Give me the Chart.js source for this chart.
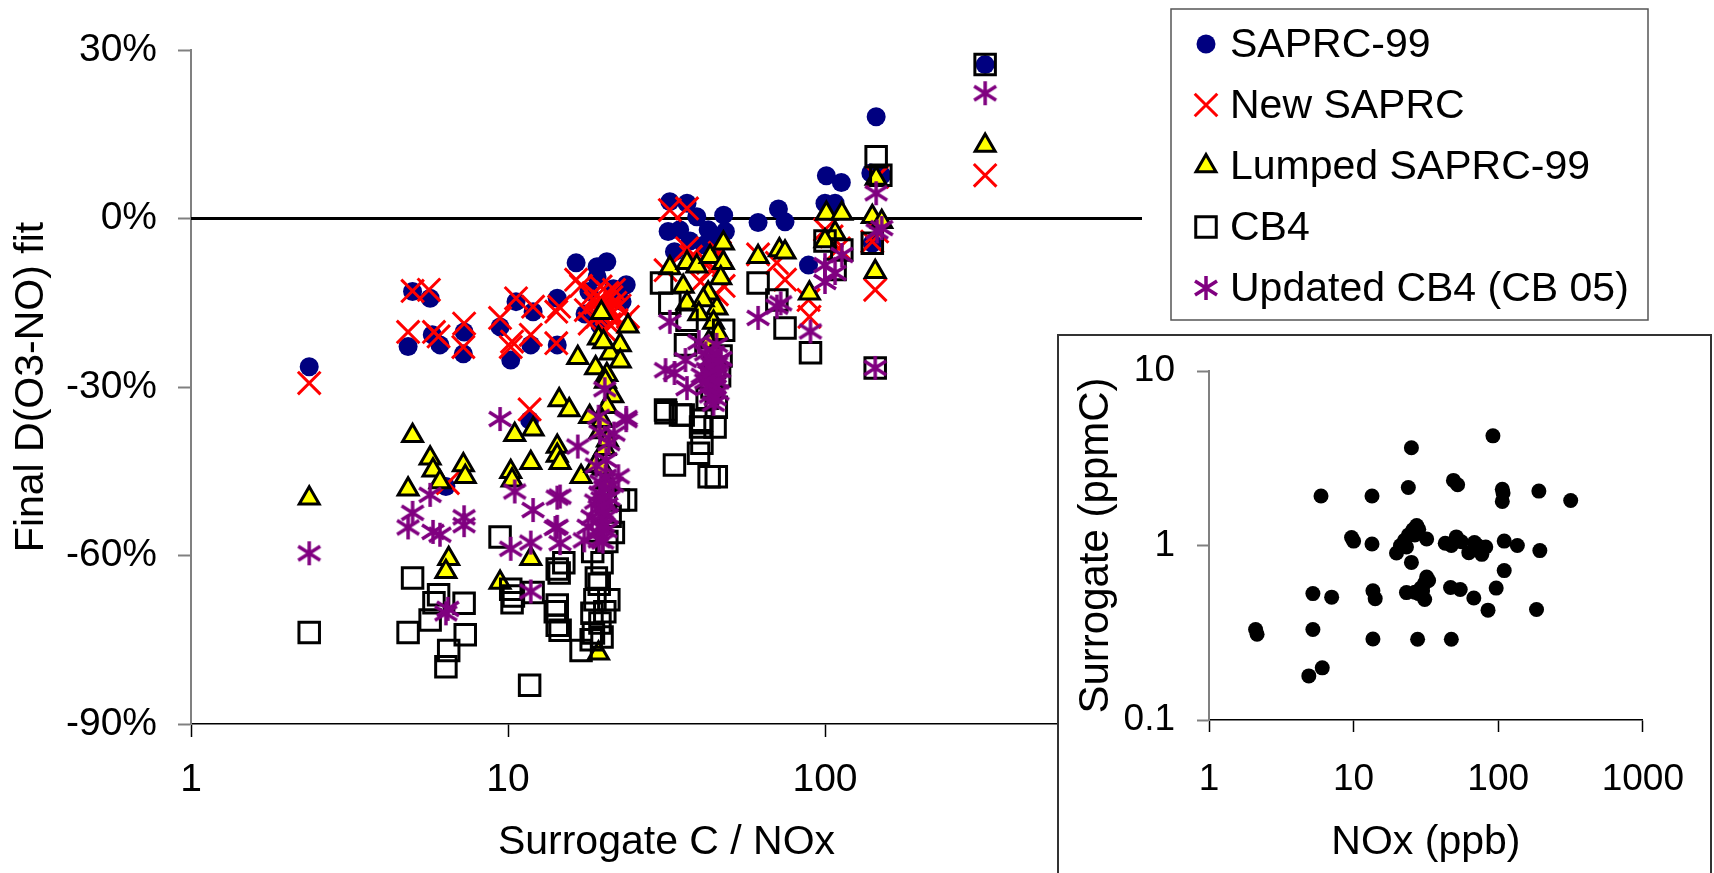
<!DOCTYPE html>
<html>
<head>
<meta charset="utf-8">
<title>Final D(O3-NO) fit vs Surrogate C / NOx</title>
<script src="https://cdn.jsdelivr.net/npm/chart.js@4.4.1/dist/chart.umd.min.js"></script>
<style>
    html, body { margin: 0; padding: 0; background: #fff; overflow: hidden; }
    canvas { display: block; }
    #mainWrap { position: absolute; left: 0; top: 0; width: 1714px; height: 873px; }
    #insetWrap { position: absolute; left: 1057px; top: 334px; width: 651px; height: 545px;
                 border: 2px solid #333; background: #fff; }
</style>
</head>
<body>
<div id="mainWrap"><canvas id="mainChart" width="1714" height="873"></canvas></div>
<div id="insetWrap"><canvas id="insetChart" width="651" height="537"></canvas></div>
<script>
// Data: [Surrogate C / NOx, Final D(O3-NO) fit in %]
const saprc99 = [
    [2.36, -26.4],
    [5.0, -13.0], [5.68, -14.2], [4.84, -22.8], [5.77, -20.7], [6.1, -22.5], [7.27, -20.2], [7.23, -24.1], [6.37, -47.7],
    [9.44, -19.3], [10.6, -14.8], [12.0, -16.6], [10.2, -25.2], [11.8, -22.5], [14.3, -14.2], [14.3, -22.5], [11.7, -35.9],
    [16.4, -7.9], [19.1, -8.6], [20.5, -7.7], [23.6, -11.8], [19.1, -10.4], [22.9, -14.8], [18.0, -13.0], [20.0, -15.5],
    [21.5, -12.5], [17.5, -17.0], [19.5, -19.0],
    [32.4, 3.0], [36.7, 2.7], [39.4, 0.3], [47.9, 0.6], [32, -2.3], [34.8, -2.0], [42.8, -2.0], [48.5, -2.3],
    [33.5, -5.9], [41.6, -4.7], [44.6, -3.5], [37.5, -4.0], [45.5, -6.5],
    [61.5, -0.7], [71.3, 1.7], [74.8, -0.6], [88.7, -8.3], [101, 7.6], [112.6, 6.4], [100, 2.7], [107.6, 2.7],
    [145, 18.1], [139.5, 8.1], [151, 7.7], [141, -4.4], [320, 27.4]
];
const newSaprc = [
    [2.36, -29.3],
    [5.0, -12.9], [5.63, -12.7], [4.84, -20.2], [5.84, -20.2], [6.04, -21.0], [7.27, -18.7], [7.23, -22.9], [6.46, -47.1],
    [9.44, -17.7], [10.6, -14.2], [12.0, -15.7], [10.2, -22.9], [10.3, -21.9], [11.8, -20.7], [14.2, -16.6], [14.2, -22.2], [11.7, -34.0],
    [16.4, -10.9], [18.6, -13.3], [19.6, -14.5], [20.8, -15.7], [19.1, -17.5], [18.1, -18.7], [22.0, -18.1], [20.2, -19.9],
    [23.9, -17.5], [14.5, -15.7], [21.6, -12.7], [17.6, -16.3], [19.6, -12.1], [20.5, -17.0], [21.2, -14.0], [19.9, -16.2],
    [20.9, -18.8], [18.9, -15.0], [22.5, -15.5], [17.0, -12.0], [19.0, -13.8], [20.0, -14.8], [21.0, -16.5], [19.5, -16.8],
    [20.6, -13.2], [21.8, -15.0],
    [32.4, 1.5], [36.7, 1.8], [31.4, -9.2], [36.7, -5.3], [37.8, -6.8], [42.8, -7.9], [46.6, -6.1], [47.9, -12.0],
    [40.5, -11.3], [45.6, -13.5], [43.6, -9.1],
    [61.5, -6.4], [70.5, -7.9], [74.8, -10.9], [88.7, -14.5], [89.3, -17.5], [100, -2.0], [104.9, -3.2], [110.6, -5.3],
    [146, 7.4], [141, -4.1], [146, -2.3], [144, -12.7], [320, 7.7]
];
const lumpedSaprc = [
    [2.36, -49.8],
    [5.0, -38.7], [5.68, -42.7], [5.8, -44.8], [6.1, -46.9], [4.84, -48.2], [7.23, -43.9], [7.33, -46.0], [6.5, -60.6], [6.37, -62.9],
    [9.44, -64.8], [10.2, -45.1], [10.3, -46.6], [10.5, -38.5], [12.0, -37.5], [11.8, -43.5], [11.8, -60.6], [14.3, -40.6],
    [14.3, -42.2], [14.6, -43.5],
    [19.7, -16.8], [19.3, -21.3], [22.6, -22.5], [23.9, -19.2], [16.6, -24.8], [18.9, -26.6], [21.0, -24.0], [22.6, -25.4],
    [20.5, -27.8], [21.4, -31.6], [14.5, -32.3], [15.6, -34.1], [18.1, -35.3], [17.0, -46.0], [19.3, -77.4], [19.5, -38.0],
    [20.2, -41.0], [18.8, -44.0], [20.5, -33.5], [20.0, -22.0], [20.3, -29.0], [19.8, -36.0], [20.6, -39.5], [19.9, -44.5], [20.4, -47.0],
    [32.4, -8.8], [36.7, -7.9], [39.4, -8.5], [43.4, -6.8], [47.8, -4.4], [47.8, -7.9], [46.9, -10.6], [35.7, -12.1],
    [36.7, -15.1], [45.6, -16.0], [42.8, -13.3], [41.3, -14.5], [44.5, -18.5], [40.0, -17.0], [46.0, -20.5], [43.0, -22.0],
    [61.5, -6.8], [71.8, -5.6], [74.8, -6.0], [89.3, -13.3], [101, 0.9], [113, 0.9], [107.6, -2.6], [100, -4.0],
    [141, 0.3], [151, -0.6], [145, 7.1], [144, -9.5], [320, 13.0]
];
const cb4 = [
    [2.36, -73.7],
    [5.0, -64.0], [4.84, -73.7], [6.04, -67.0], [5.84, -68.4], [5.68, -71.5], [7.27, -68.5], [7.33, -74.1], [6.5, -76.9], [6.37, -79.8],
    [9.44, -56.7], [10.2, -66.0], [10.3, -68.4], [10.4, -67.2], [12.0, -66.6], [11.7, -83.1], [14.3, -62.4], [14.3, -68.8], [14.3, -72.4],
    [14.5, -63.1], [14.1, -70.0], [14.6, -73.3], [17.0, -76.9], [18.8, -67.9], [18.4, -70.3], [18.6, -73.8], [18.3, -75.0],
    [19.4, -65.1], [19.8, -61.3], [20.8, -67.9], [22.3, -50.1], [23.5, -50.1], [21.5, -55.9], [18.5, -59.3], [15.0, -61.3],
    [19.5, -72.0], [20.2, -70.0], [19.0, -64.0], [20.5, -57.5], [21.0, -53.0], [19.8, -74.5],
    [30.5, -11.5], [32.4, -15.1], [36.7, -18.1], [47.9, -19.9], [36.3, -22.5], [31.4, -34.1], [35.7, -35.0], [40.5, -37.1],
    [31.5, -34.6], [35, -35.0], [33.5, -43.9], [40.9, -35.9], [39.9, -41.8], [43.1, -46.0], [45.4, -46.0], [40.9, -40.0],
    [45, -37.1], [45.4, -33.6], [44.0, -30.0], [46.5, -28.0], [42.5, -32.0], [47.0, -24.5], [44.8, -26.5],
    [61.5, -11.5], [74.8, -19.5], [70.5, -14.5], [90, -23.9], [100, -4.0], [113, -5.6], [107.6, -9.1],
    [145, 11.0], [150, 7.7], [141, -4.4], [144, -26.6], [320, 27.4]
];
const cb05 = [
    [2.36, -59.6],
    [5.0, -52.4], [4.84, -55.0], [5.68, -49.2], [5.8, -55.8], [6.1, -56.3], [7.27, -54.6], [7.27, -53.2], [6.37, -70.3], [6.46, -69.5],
    [9.44, -35.7], [10.5, -48.6], [12.0, -51.9], [10.2, -58.8], [11.8, -57.7], [11.8, -66.4], [14.3, -49.7], [14.3, -54.9],
    [14.6, -49.5], [14.1, -55.1], [14.6, -57.8], [16.6, -40.6], [19.5, -38.1], [20.8, -40.0], [22.3, -45.9], [20.4, -43.0],
    [18.4, -53.2], [17.9, -54.9], [17.4, -57.3], [19.4, -57.3], [18.9, -50.4], [20.8, -49.8], [21.4, -47.4], [20.2, -30.4],
    [23.6, -35.5], [19.3, -35.3], [21.6, -38.3], [23.6, -35.9], [19.8, -52.0], [20.0, -54.5], [19.2, -56.0], [20.5, -51.0],
    [19.6, -47.0], [19.0, -44.0], [19.5, -49.0], [20.2, -48.0], [19.8, -50.0], [20.6, -53.0], [19.4, -51.5], [20.1, -52.5],
    [19.7, -55.0], [20.4, -55.5], [19.9, -57.5], [20.3, -46.0],
    [32.4, -18.4], [31.4, -27.0], [33.5, -27.5], [36.7, -30.2], [36.3, -25.2], [40, -22.0], [42, -24.0], [44, -26.0],
    [45, -28.0], [43, -30.0], [46, -31.0], [44.5, -33.0], [41, -28.0], [47, -25.0], [45.5, -22.5], [42.5, -27.0],
    [44, -29.5], [46.5, -27.0], [43.5, -25.0], [44.5, -24.0], [45.5, -26.0], [43, -27.5], [44, -28.0], [45, -30.0],
    [46, -29.0], [43.5, -31.5], [45, -32.0], [44.5, -27.0], [46, -25.5], [42, -29.0],
    [61.5, -17.7], [72.5, -15.1], [70.5, -15.7], [90, -20.1], [100, -8.3], [100, -11.3], [107.6, -9.7], [113, -6.5],
    [145, 4.5], [146, -2.3], [151, -1.7], [144, -26.6], [320, 22.3]
];
const zeroLine = [[1, 0], [1000, 0]];
const mainXTicks = [1, 10, 100, 1000];
const mainYTicks = [-90, -60, -30, 0, 30];

// Inset: [NOx (ppb), Surrogate (ppmC)]
const insetPoints = [
    [2.1, 0.33], [2.15, 0.31], [4.9, 0.179], [6.07, 0.199], [5.23, 0.33], [5.23, 0.53], [7.05, 0.506], [5.95, 1.92],
    [9.68, 1.11], [10.0, 1.06], [13.4, 1.92], [13.4, 1.02], [13.6, 0.55], [14.1, 0.496], [13.6, 0.291],
    [25.1, 3.63], [23.9, 2.15], [23.2, 0.537], [25.1, 0.80], [19.8, 0.906], [21.1, 1.0], [22.5, 1.07], [24, 1.15],
    [25.7, 1.23], [27.3, 1.3], [28.2, 1.24], [26.5, 1.15], [32, 1.09], [23.2, 0.98], [32, 0.66], [31, 0.61],
    [29.2, 0.57], [26.5, 0.54], [28.2, 0.53], [31, 0.49], [33, 0.63], [30, 0.55], [27.7, 0.29], [47.4, 0.29],
    [46.8, 0.575], [54.6, 0.56], [43, 1.03], [47.4, 1.0], [51.3, 1.12], [55.6, 1.05], [62.6, 0.91], [68.5, 1.04],
    [72, 1.0], [77, 0.89], [82, 0.98], [49, 2.36], [52.4, 2.23], [91.9, 4.25], [106.7, 2.1], [108, 2.0], [106.7, 1.79],
    [110, 1.06], [135.6, 1.0], [110, 0.718], [96.8, 0.57], [67.8, 0.50], [85, 0.426], [191, 2.05], [194, 0.935],
    [184, 0.43], [317, 1.81]
];
const insetXTicks = [1, 10, 100, 1000];
const insetYTicks = [0.1, 1, 10];

const FONT = "'Liberation Sans', Arial, sans-serif";
Chart.defaults.font.family = FONT;
Chart.defaults.color = '#000';

function toPoints(list) {
    return list.map(p => ({ x: p[0], y: p[1] }));
}

// Excel-like asterisk marker: an X with a vertical bar
function makeStar(color) {
    const c = document.createElement('canvas');
    c.width = 28;
    c.height = 28;
    const g = c.getContext('2d');
    g.strokeStyle = color;
    g.lineWidth = 3.5;
    g.beginPath();
    g.moveTo(3, 7); g.lineTo(25, 21);
    g.moveTo(25, 7); g.lineTo(3, 21);
    g.moveTo(14, 2); g.lineTo(14, 26);
    g.stroke();
    return c;
}
const starImg = makeStar('#800080');

// Legend drawn as a bordered box to the right of the plot
const boxLegend = {
    id: 'boxLegend',
    afterDraw(chart, args, opts) {
        const ctx = chart.ctx;
        ctx.save();
        ctx.strokeStyle = '#555';
        ctx.lineWidth = 1.5;
        ctx.strokeRect(opts.left, opts.top, opts.width, opts.height);
        ctx.font = '41px ' + FONT;
        ctx.textBaseline = 'middle';
        ctx.textAlign = 'left';
        let y = opts.top + opts.firstRow;
        chart.data.datasets.forEach(ds => {
            if (ds.noLegend) return;
            ctx.fillStyle = ds.backgroundColor;
            ctx.strokeStyle = ds.borderColor;
            ctx.lineWidth = ds.borderWidth;
            Chart.helpers.drawPoint(ctx, {
                pointStyle: ds.pointStyle,
                radius: ds.pointRadius,
                borderWidth: ds.borderWidth,
                rotation: 0
            }, opts.markerX, y);
            ctx.fillStyle = '#000';
            ctx.fillText(ds.label, opts.textX, y + 2);
            y += opts.rowGap;
        });
        ctx.restore();
    }
};

// Main chart
var ctx1 = document.getElementById('mainChart').getContext('2d');
var mainChart = new Chart(ctx1, {
    type: 'scatter',
    data: {
        datasets: [
            {
                label: 'SAPRC-99',
                data: toPoints(saprc99),
                pointStyle: 'circle',
                pointRadius: 9.5,
                backgroundColor: '#000080',
                borderColor: '#000080',
                borderWidth: 0,
                order: 5
            },
            {
                label: 'New SAPRC',
                data: toPoints(newSaprc),
                pointStyle: 'crossRot',
                pointRadius: 16,
                backgroundColor: '#FF0000',
                borderColor: '#FF0000',
                borderWidth: 3,
                order: 4
            },
            {
                label: 'Lumped SAPRC-99',
                data: toPoints(lumpedSaprc),
                pointStyle: 'triangle',
                pointRadius: 11.5,
                backgroundColor: '#FFFF00',
                borderColor: '#000000',
                borderWidth: 3,
                order: 3
            },
            {
                label: 'CB4',
                data: toPoints(cb4),
                pointStyle: 'rect',
                pointRadius: 14.5,
                backgroundColor: 'rgba(0,0,0,0)',
                borderColor: '#000000',
                borderWidth: 3,
                order: 2
            },
            {
                label: 'Updated CB4 (CB 05)',
                data: toPoints(cb05),
                pointStyle: starImg,
                pointRadius: 13,
                backgroundColor: '#800080',
                borderColor: '#800080',
                borderWidth: 3,
                order: 1
            },
            {
                label: 'zero',
                noLegend: true,
                data: toPoints(zeroLine),
                showLine: true,
                pointRadius: 0,
                borderColor: '#000000',
                borderWidth: 3,
                order: 6
            }
        ]
    },
    options: {
        responsive: false,
        animation: false,
        events: [],
        layout: { padding: { top: 50, right: 572, bottom: 0, left: 0 } },
        plugins: {
            legend: { display: false },
            tooltip: { enabled: false },
            boxLegend: {
                left: 1171, top: 9, width: 477, height: 311,
                firstRow: 35, rowGap: 61, markerX: 1206, textX: 1230
            }
        },
        scales: {
            x: {
                type: 'logarithmic',
                min: 1,
                max: 1000,
                afterBuildTicks: s => { s.ticks = mainXTicks.map(v => ({ value: v })); },
                afterFit: s => { s.height = 149; },
                border: { color: '#000', width: 1.5 },
                grid: { drawOnChartArea: false, tickLength: 13, tickColor: '#000', tickWidth: 1.5 },
                ticks: {
                    font: { size: 39 },
                    color: '#000',
                    padding: 20,
                    maxRotation: 0,
                    autoSkip: false,
                    callback: v => String(v)
                },
                title: {
                    display: true,
                    text: 'Surrogate C / NOx',
                    font: { size: 41 },
                    color: '#000',
                    padding: { top: 0, bottom: 6 }
                }
            },
            y: {
                min: -90,
                max: 30,
                afterBuildTicks: s => { s.ticks = mainYTicks.map(v => ({ value: v })); },
                afterFit: s => { s.width = 191; },
                border: { color: '#808080', width: 2 },
                grid: { drawOnChartArea: false, tickLength: 13, tickColor: '#808080', tickWidth: 2 },
                ticks: {
                    font: { size: 39 },
                    color: '#000',
                    padding: 21,
                    callback: v => v + '%'
                },
                title: {
                    display: true,
                    text: 'Final D(O3-NO) fit',
                    font: { size: 41 },
                    color: '#000',
                    padding: { top: 7, bottom: 0 }
                }
            }
        }
    },
    plugins: [boxLegend]
});

// Inset chart
var ctx2 = document.getElementById('insetChart').getContext('2d');
var insetChart = new Chart(ctx2, {
    type: 'scatter',
    data: {
        datasets: [{
            label: 'Experiments',
            data: toPoints(insetPoints),
            pointStyle: 'circle',
            pointRadius: 7.5,
            backgroundColor: '#000',
            borderColor: '#000',
            borderWidth: 0
        }]
    },
    options: {
        responsive: false,
        animation: false,
        events: [],
        layout: { padding: { top: 35, right: 57, bottom: 0, left: 0 } },
        plugins: {
            legend: { display: false },
            tooltip: { enabled: false }
        },
        scales: {
            x: {
                type: 'logarithmic',
                min: 1,
                max: 1000,
                afterBuildTicks: s => { s.ticks = insetXTicks.map(v => ({ value: v })); },
                afterFit: s => { s.height = 153; },
                border: { color: '#000', width: 1.5 },
                grid: { drawOnChartArea: false, tickLength: 12, tickColor: '#000', tickWidth: 1.5 },
                ticks: {
                    font: { size: 37 },
                    color: '#000',
                    padding: 26,
                    maxRotation: 0,
                    autoSkip: false,
                    callback: v => String(v)
                },
                title: {
                    display: true,
                    text: 'NOx (ppb)',
                    font: { size: 41 },
                    color: '#000',
                    padding: { top: 0, bottom: 6 }
                }
            },
            y: {
                type: 'logarithmic',
                min: 0.1,
                max: 10,
                afterBuildTicks: s => { s.ticks = insetYTicks.map(v => ({ value: v })); },
                afterFit: s => {
                    // keep the plot top where the picture has it (label overhang fits in the padding)
                    s.width = 150;
                    s.paddingTop = 0;
                    s.paddingBottom = 0;
                },
                border: { color: '#808080', width: 2 },
                grid: { drawOnChartArea: false, tickLength: 12, tickColor: '#808080', tickWidth: 2 },
                ticks: {
                    font: { size: 37 },
                    color: '#000',
                    padding: 22,
                    callback: v => String(v)
                },
                title: {
                    display: true,
                    text: 'Surrogate (ppmC)',
                    font: { size: 42 },
                    color: '#000',
                    padding: { top: 12, bottom: 0 }
                }
            }
        }
    }
});
</script>
</body>
</html>
